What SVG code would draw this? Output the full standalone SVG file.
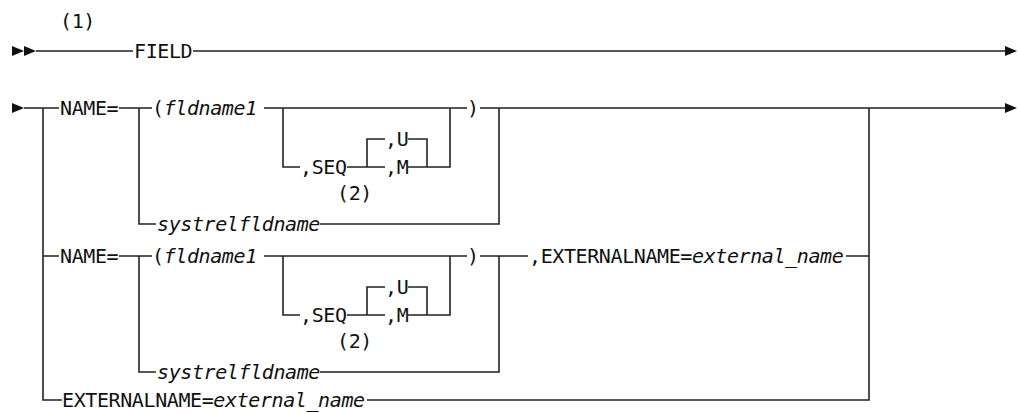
<svg xmlns="http://www.w3.org/2000/svg" width="1019" height="413" viewBox="0 0 1019 413">
<style>
.t{font-family:"DejaVu Sans Mono",monospace;font-size:20px;letter-spacing:-0.4px;fill:#111}
.i{font-style:italic}
.c{fill:none;stroke:#222;stroke-width:1.6}
.a{fill:#111}
</style>
<rect width="1019" height="413" fill="#fff"/>
<g id="connectors" class="c">
<path d="M36 51H133M193 51H1005"/>
<path d="M24 108H59M119 108H152M264 108H467M480 108H1005"/>
<path d="M43 108V400H62M43 256H59"/>
<path d="M139 108V224H156M320 224H499V108"/>
<path d="M283 108V167H300M347 167H385M408 167H450V108M367 167V139H385M408 139H427V167"/>
<path d="M119 256H152M264 256H467M480 256H528M846 256H869"/>
<path d="M139 256V372H156M320 372H499V256"/>
<path d="M283 256V315H300M347 315H385M408 315H450V256M367 315V287H385M408 287H427V315"/>
<path d="M869 108V400H367"/>
</g>
<g id="arrows" class="a">
<polygon points="12,46 24,51 12,56"/>
<polygon points="24,46 36,51 24,56"/>
<polygon points="1005,46 1017,51 1005,56"/>
<polygon points="12,103 24,108 12,113"/>
<polygon points="1005,103 1017,108 1005,113"/>
</g>
<g id="note1"><text class="t" x="60" y="28">(1)</text></g>
<g id="field"><text class="t" x="134" y="58">FIELD</text></g>
<g id="name1"><text class="t" x="60" y="115">NAME=</text></g>
<g id="fld1"><text class="t" x="152" y="115">(<tspan class="i">fldname1</tspan></text></g>
<g id="seq1"><text class="t" x="300" y="174">,SEQ</text></g>
<g id="u1"><text class="t" x="385" y="146">,U</text></g>
<g id="m1"><text class="t" x="385" y="174">,M</text></g>
<g id="note2a"><text class="t" x="337" y="200">(2)</text></g>
<g id="close1"><text class="t" x="467" y="115">)</text></g>
<g id="sys1"><text class="t i" x="157" y="231">systrelfldname</text></g>
<g id="name2"><text class="t" x="60" y="263">NAME=</text></g>
<g id="fld2"><text class="t" x="152" y="263">(<tspan class="i">fldname1</tspan></text></g>
<g id="seq2"><text class="t" x="300" y="322">,SEQ</text></g>
<g id="u2"><text class="t" x="385" y="294">,U</text></g>
<g id="m2"><text class="t" x="385" y="322">,M</text></g>
<g id="note2b"><text class="t" x="337" y="348">(2)</text></g>
<g id="close2"><text class="t" x="467" y="263">)</text></g>
<g id="sys2"><text class="t i" x="157" y="379">systrelfldname</text></g>
<g id="ext1"><text class="t" x="529" y="263">,EXTERNALNAME=<tspan class="i">external_name</tspan></text></g>
<g id="ext2"><text class="t" x="62" y="407">EXTERNALNAME=<tspan class="i">external_name</tspan></text></g>
</svg>
